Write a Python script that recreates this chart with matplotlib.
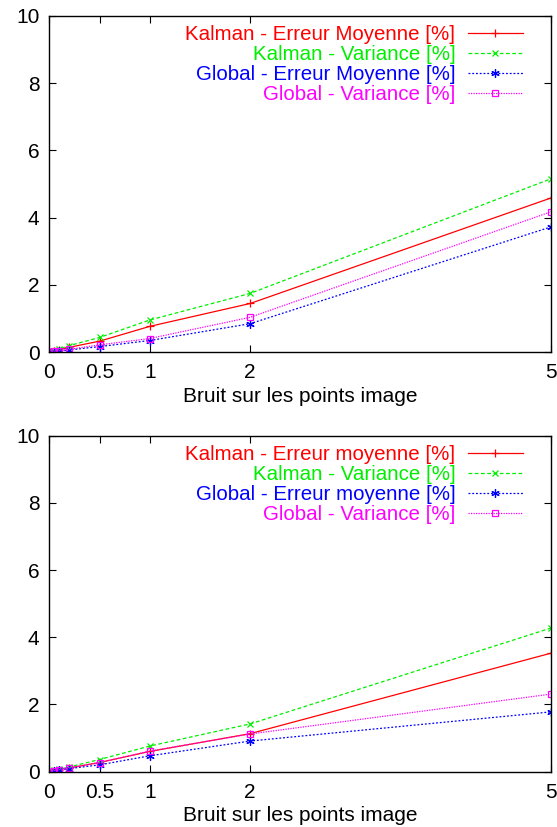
import matplotlib
matplotlib.use("Agg")
import matplotlib.pyplot as plt

plt.rcParams['font.family'] = ['Liberation Sans', 'DejaVu Sans']

x = [0, 0.05, 0.1, 0.2, 0.5, 1, 2, 5]
xticks = [0, 0.5, 1, 2, 5]
xtick_labels = ["0", "0.5", "1", "2", "5"]
yticks = [0, 2, 4, 6, 8, 10]
xlabel = "Bruit sur les points image"

# top chart
top_labels = ["Kalman - Erreur Moyenne [%]", "Kalman - Variance [%]",
              "Global - Erreur Moyenne [%]", "Global - Variance [%]"]
top_kalman_err = [0, 0.04, 0.08, 0.15, 0.33, 0.77, 1.45, 4.59]
top_kalman_var = [0, 0.05, 0.10, 0.20, 0.44, 0.96, 1.75, 5.16]
top_global_err = [0, 0.02, 0.04, 0.07, 0.17, 0.35, 0.85, 3.73]
top_global_var = [0, 0.03, 0.05, 0.09, 0.22, 0.41, 1.04, 4.18]

# bottom chart
bot_labels = ["Kalman - Erreur moyenne [%]", "Kalman - Variance [%]",
              "Global - Erreur moyenne [%]", "Global - Variance [%]"]
bot_kalman_err = [0, 0.03, 0.06, 0.11, 0.27, 0.60, 1.13, 3.53]
bot_kalman_var = [0, 0.04, 0.07, 0.14, 0.36, 0.76, 1.42, 4.28]
bot_global_err = [0, 0.02, 0.05, 0.09, 0.20, 0.47, 0.91, 1.78]
bot_global_var = [0, 0.03, 0.06, 0.11, 0.27, 0.61, 1.12, 2.31]

styles = [
    dict(color='#ff0000', linestyle='-', marker='+', markersize=6, mfc='none'),
    dict(color='#00ee00', linestyle=(0, (3, 2)), marker='x', markersize=5, mfc='none'),
    dict(color='#0000ff', linestyle=(0, (1.5, 1.5)), marker=(6, 2, 0), markersize=6, mfc='none'),
    dict(color='#ff00ff', linestyle=(0, (1, 1)), marker='s', markersize=5, mfc='none'),
]

fig = plt.figure(figsize=(5.57, 8.27), dpi=100)
ax1 = fig.add_axes([0.0885, 0.574, 0.9015, 0.407])
ax2 = fig.add_axes([0.0885, 0.067, 0.9015, 0.406])

def draw(ax, series, labels):
    for ys, lab, st in zip(series, labels, styles):
        ax.plot(x, ys, label=lab, linewidth=0.9, markeredgewidth=0.9, **st)
    ax.set_xlim(0, 5)
    ax.set_ylim(0, 10)
    ax.set_xticks(xticks)
    ax.set_xticklabels(xtick_labels)
    ax.set_yticks(yticks)
    ax.tick_params(direction='in', top=True, right=True, labelsize=15, length=5, width=0.8)
    ax.tick_params(axis='x', pad=8)
    ax.tick_params(axis='y', pad=7)
    ax.set_xlabel(xlabel, fontsize=15, labelpad=3)
    for s in ax.spines.values():
        s.set_linewidth(1.0)
    leg = ax.legend(loc='upper right', frameon=False, markerfirst=False, fontsize=14.8,
                    labelcolor='linecolor', handlelength=2.7, handletextpad=0.6,
                    borderaxespad=0.0, labelspacing=0.05, borderpad=0.45,
                    bbox_to_anchor=(0.962, 1.0))
    for t in leg.get_texts():
        t.set_ha('right')
    leg._legend_box.align = "right"

draw(ax1, [top_kalman_err, top_kalman_var, top_global_err, top_global_var], top_labels)
draw(ax2, [bot_kalman_err, bot_kalman_var, bot_global_err, bot_global_var], bot_labels)

fig.savefig("out.png", dpi=100)
